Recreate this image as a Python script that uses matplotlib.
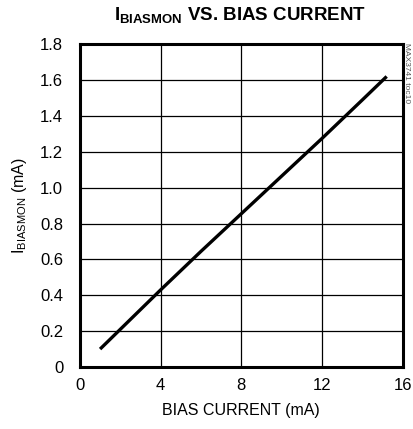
import matplotlib.pyplot as plt

plt.rcParams["font.family"] = ["Liberation Sans", "DejaVu Sans"]
plt.rcParams["mathtext.default"] = "regular"

# bias current (mA) vs IBIASMON (mA)
bias_current = [1.0, 2.0, 4.0, 6.0, 8.0, 10.0, 12.0, 14.0, 15.2]
i_biasmon = [0.10, 0.21, 0.43, 0.645, 0.855, 1.065, 1.275, 1.49, 1.62]

x_ticks = [0, 4, 8, 12, 16]
y_ticks = [0, 0.2, 0.4, 0.6, 0.8, 1.0, 1.2, 1.4, 1.6, 1.8]
y_labels = ["0", "0.2", "0.4", "0.6", "0.8", "1.0", "1.2", "1.4", "1.6", "1.8"]

fig = plt.figure(figsize=(4.14, 4.29), dpi=100)
ax = fig.add_axes([0.193, 0.1445, 0.780, 0.7525])

ax.plot(bias_current, i_biasmon, color="black", linewidth=2.4, solid_capstyle="butt")

ax.set_xlim(0, 16)
ax.set_ylim(0, 1.8)
ax.set_xticks(x_ticks)
ax.set_yticks(y_ticks)
ax.set_yticklabels(y_labels)
ax.tick_params(length=0, labelsize=12, pad=12)
ax.tick_params(axis="x", pad=8)
ax.grid(True, color="black", linewidth=0.9)
for s in ax.spines.values():
    s.set_linewidth(2.2)

ax.set_xlabel("BIAS CURRENT (mA)", fontsize=11.5, labelpad=7)
ax.set_ylabel("I$_{BIASMON}$ (mA)", fontsize=11.5, labelpad=8)

fig.text(0.58, 0.965, "I$_{BIASMON}$ VS. BIAS CURRENT", ha="center", va="center",
         fontsize=13.5, fontweight="bold")
fig.text(0.981, 0.90, "MAX3741 toc10", rotation=-90, ha="center", va="top",
         fontsize=6, color="#555555")

fig.savefig("out.png", dpi=100)
